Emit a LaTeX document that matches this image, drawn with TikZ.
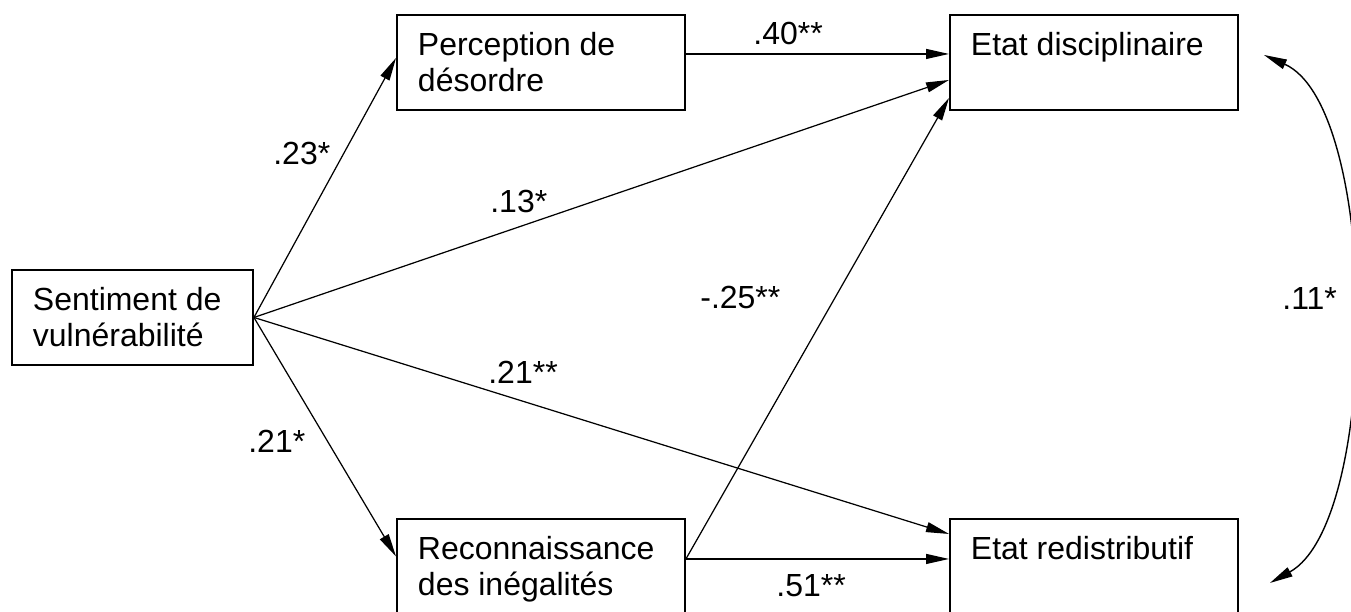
\documentclass[tikz,border=0pt]{standalone}
\usepackage{fontspec}
\setmainfont{Liberation Sans}
\usepackage{tikz}
\usetikzlibrary{arrows.meta, calc}
\newcommand{\boxtext}[2]
{%
	\parbox[t][1.9cm][t]{#1}{\leftskip=0.42cm\relax\rule{0pt}{0.82cm}#2}%
}

\begin{document}
\begin{tikzpicture}[
	every node/.append style={
		font=\fontsize{18.2pt}{20.5pt}\selectfont, inner sep=0pt},
	box/.style={draw, line width=1.1pt, anchor=north west},
	coef/.style={anchor=base west},
	effect/.style={line width=0.7pt, -{Triangle[length=0.46cm, width=0.2cm]}},
	corr/.style={line width=0.8pt, {Triangle[length=0.46cm, width=0.2cm]}-{Triangle[length=0.46cm, width=0.2cm]}}]

	\useasboundingbox (0,0) rectangle (27.02,12.24);

	\node[box] (sent) at (0.22, 6.86) {\boxtext{4.82cm}{Sentiment de\\vulnérabilité}};
	\node[box] (perc) at (7.92, 11.96) {\boxtext{5.76cm}{Perception de\\désordre}};
	\node[box] (reco) at (7.92, 1.88) {\boxtext{5.76cm}{Reconnaissance\\des inégalités}};
	\node[box] (disc) at (18.98, 11.96) {\boxtext{5.76cm}{Etat disciplinaire}};
	\node[box] (redi) at (18.98, 1.88) {\boxtext{5.76cm}{Etat redistributif}};

	\draw[effect] (sent.east) -- ([yshift=0.09cm]perc.west);
	\draw[effect] (sent.east) -- ([yshift=-0.35cm]disc.west);
	\draw[effect] (sent.east) -- ([yshift=0.65cm]redi.west);
	\draw[effect] (sent.east) -- ([yshift=0.2cm]reco.west);
	\draw[effect] ([yshift=0.17cm]perc.east) -- ([yshift=0.17cm]disc.west);
	\draw[effect] ([yshift=0.15cm]reco.east) -- ([yshift=-0.71cm]disc.west);
	\draw[effect] ([yshift=0.15cm]reco.east) -- ([yshift=0.15cm]redi.west);

	\coordinate (distip) at ($(disc.east)+(0.5,0.15)$);
	\coordinate (redtip) at ($(redi.east)+(0.62,-0.33)$);
	\draw[corr] (redtip) .. controls +(29:2.54) and +(-24:2.54) .. (distip);

	\node[coef] (c23) at (5.46, 8.94) {.23*};
	\node[coef] (c13) at (9.80, 7.98) {.13*};
	\node[coef] (c40) at (15.06, 11.34) {.40**};
	\node[coef] (c25) at (14.00, 6.06) {-.25**};
	\node[coef] (c21b) at (9.76, 4.56) {.21**};
	\node[coef] (c21a) at (4.96, 3.18) {.21*};
	\node[coef] (c51) at (15.52, 0.30) {.51**};
	\node[coef] (c11) at (25.64, 6.04) {.11*};
\end{tikzpicture}
\end{document}
